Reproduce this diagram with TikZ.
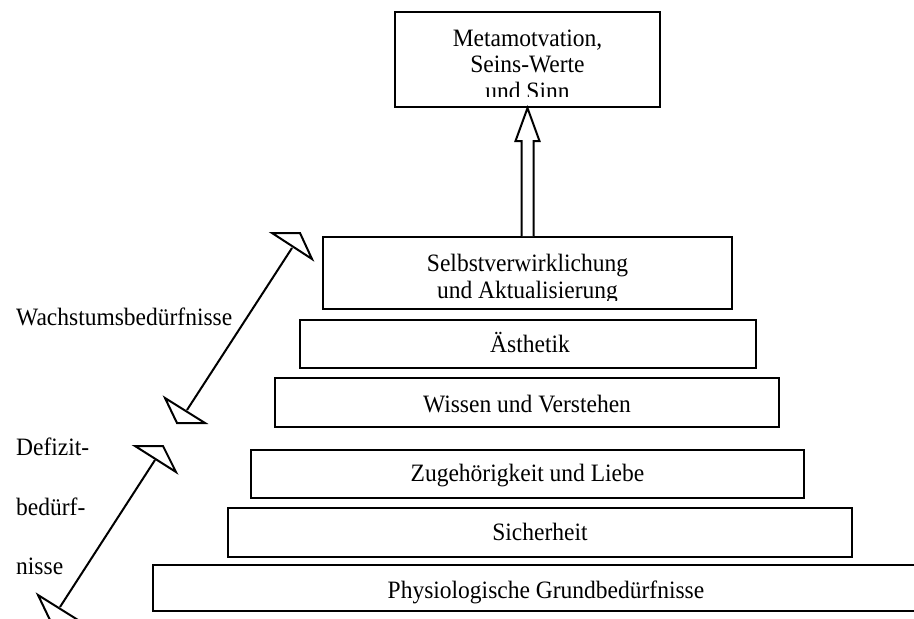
\documentclass[tikz,border=0pt]{standalone}
\usepackage{fontspec}
\setmainfont{Liberation Serif}[FakeStretch=0.94]
\begin{document}
\begin{tikzpicture}[x=1pt,y=-1pt,
  box/.style={draw, line width=2pt, rectangle, inner sep=0pt, fill=white},
  txt/.style={font=\fontsize{25}{26.5}\selectfont, inner sep=0pt, align=center},
  side/.style={font=\fontsize{25}{59.5}\selectfont, inner sep=0pt, align=left},
  ln/.style={line width=2pt},
  head/.style={draw, line width=2pt, fill=white, line join=miter}]
\useasboundingbox (0,0) rectangle (914,619);

% levels of the pyramid
\node[box, minimum width=265, minimum height=95] (meta) at (527.5,59.5) {};
\node[box, minimum width=409, minimum height=72] (selbst) at (527.5,273) {};
\node[box, minimum width=456, minimum height=48] (aest) at (528,344) {};
\node[box, minimum width=504, minimum height=49] (wissen) at (527,402.5) {};
\node[box, minimum width=553, minimum height=48] (zug) at (527.5,474) {};
\node[box, minimum width=624, minimum height=49] (sich) at (540,532.5) {};
\node[box, minimum width=787, minimum height=46] (phys) at (546.5,588) {};

% texts of the boxes (two-line boxes cut off at the inner margin)
\begin{scope}
  \clip (meta.north west) rectangle ([yshift=11.5pt]meta.south east);
  \node[txt, anchor=north] (metaT) at ([yshift=-18.5pt]meta.north)
    {Metamotvation,\\Seins-Werte\\und Sinn};
\end{scope}
\begin{scope}
  \clip (selbst.north west) rectangle ([yshift=10pt]selbst.south east);
  \node[txt, anchor=north] (selbstT) at ([yshift=-18pt]selbst.north)
    {Selbstverwirklichung\\und Aktualisierung};
\end{scope}
\node[txt, anchor=base] (aestT) at (530,352) {Ästhetik};
\node[txt, anchor=base] (wissenT) at (527,412) {Wissen und Verstehen};
\node[txt, anchor=base] (zugT) at (527.5,481) {Zugehörigkeit und Liebe};
\node[txt, anchor=base] (sichT) at (540,540) {Sicherheit};
\node[txt, anchor=base] (physT) at (546,598) {Physiologische Grundbedürfnisse};

% hollow block arrow up to the top box
\draw[ln, fill=white, line join=miter]
  ([xshift=-6pt]selbst.north)
  -- ([xshift=-6pt,yshift=-33pt]meta.south)
  -- ([xshift=-12pt,yshift=-33pt]meta.south)
  -- (meta.south)
  -- ([xshift=12pt,yshift=-33pt]meta.south)
  -- ([xshift=6pt,yshift=-33pt]meta.south)
  -- ([xshift=6pt]selbst.north);

% side labels
\node[txt, anchor=base west] (wachs) at (16,325) {Wachstumsbedürfnisse};
\node[side, anchor=north west] (defizit) at (16,438) {Defizit-\\bedürf-\\nisse};

% double arrows along the side
\coordinate (wA) at (292,248);
\coordinate (wB) at (187,410);
\coordinate (dA) at (155,460);
\coordinate (dB) at (60,607);
\draw[ln] (wA) -- (wB);
\draw[ln] (dA) -- (dB);
\draw[head] ([shift={(-20,-15)}]wA) -- ([shift={(8,-15)}]wA) -- ([shift={(20,11)}]wA) -- cycle;
\draw[head] ([shift={(-22,-12)}]wB) -- ([shift={(-10,13)}]wB) -- ([shift={(18,13)}]wB) -- cycle;
\draw[head] ([shift={(-20,-14)}]dA) -- ([shift={(8,-14)}]dA) -- ([shift={(21,12)}]dA) -- cycle;
\draw[head] ([shift={(-22,-12)}]dB) -- ([shift={(-10,13)}]dB) -- ([shift={(18,13)}]dB) -- cycle;
\end{tikzpicture}
\end{document}
